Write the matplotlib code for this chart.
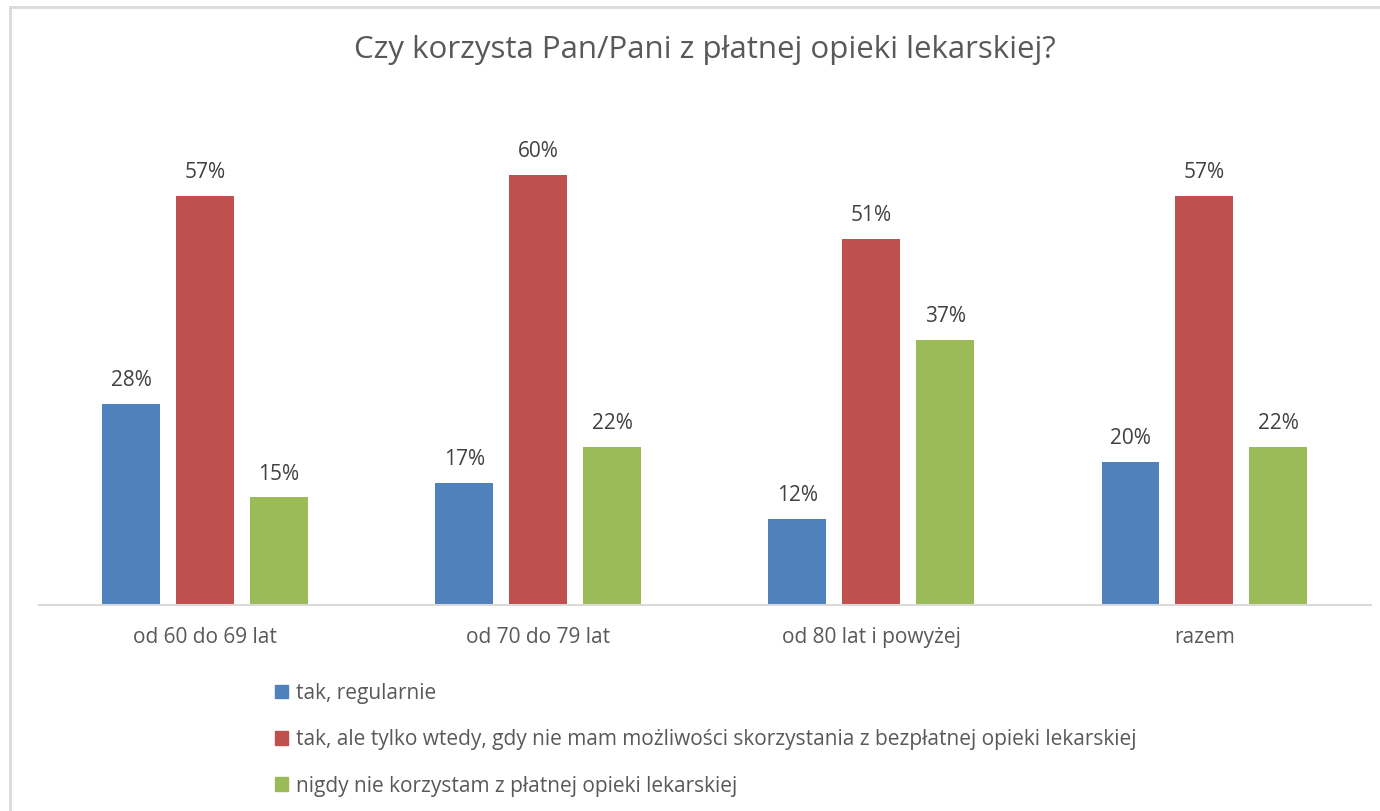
import numpy as np
import matplotlib.pyplot as plt
from matplotlib.patches import Patch, Rectangle

plt.rcParams['font.family'] = ['Open Sans', 'DejaVu Sans']

title = 'Czy korzysta Pan/Pani z płatnej opieki lekarskiej?'
categories = ['od 60 do 69 lat', 'od 70 do 79 lat', 'od 80 lat i powyżej', 'razem']
series = ['tak, regularnie',
          'tak, ale tylko wtedy, gdy nie mam możliwości skorzystania z bezpłatnej opieki lekarskiej',
          'nigdy nie korzystam z płatnej opieki lekarskiej']
regularnie = [28, 17, 12, 20]
czasem = [57, 60, 51, 57]
nigdy = [15, 22, 37, 22]
colors = ['#4F81BD', '#C0504D', '#9BBB59']

W, H = 1380, 811
fig = plt.figure(figsize=(W/100, H/100), dpi=100)

# outer chart border (only left/top visible in the reference)
fig.patches.append(Rectangle((9.5/W, -0.05), 1.2, 1 - 6.5/H + 0.05, transform=fig.transFigure,
                             fill=False, edgecolor='#d9d9d9', linewidth=2))

ax = fig.add_axes([38.5/W, 1 - 605/H, (1371 - 38.5)/W, (605 - 103)/H])
x = np.arange(len(categories))
bw = 0.174
step = 0.222
for i, (vals, c) in enumerate(zip([regularnie, czasem, nigdy], colors)):
    bars = ax.bar(x + (i - 1)*step, vals, bw, color=c, label=series[i])
    for b, v in zip(bars, vals):
        ax.text(b.get_x() + b.get_width()/2, v + 3.25, f'{v}%', ha='center', va='center',
                fontsize=15, color='#404040')

ax.set_xlim(-0.5, 3.5)
ax.set_ylim(0, 70)
ax.set_yticks([])
ax.set_xticks(x)
ax.set_xticklabels(categories, fontsize=15, color='#595959')
ax.tick_params(axis='x', length=0, pad=16)
for s in ['top', 'right', 'left']:
    ax.spines[s].set_visible(False)
ax.spines['bottom'].set_color('#d9d9d9')
ax.spines['bottom'].set_linewidth(1.5)

fig.text(705/W, 1 - 50/H, title, ha='center', va='center', fontsize=22.5, color='#595959')

handles = [Patch(color=c) for c in colors]
fig.legend(handles, series, loc='upper left', bbox_to_anchor=(256/W, 1 - 664/H),
           frameon=False, fontsize=15, labelcolor='#595959', handlelength=0.63,
           handleheight=0.63, handletextpad=0.4, labelspacing=1.22)

fig.savefig('out.png', dpi=100, facecolor='white')
